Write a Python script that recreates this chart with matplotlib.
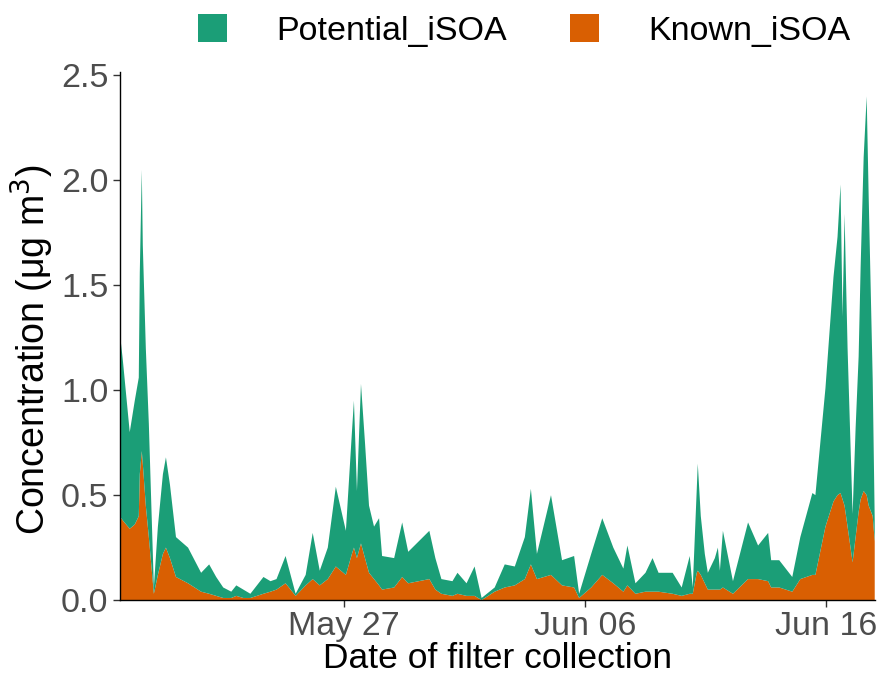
import matplotlib
matplotlib.use("Agg")
import matplotlib.pyplot as plt
import matplotlib.dates as mdates
from matplotlib.patches import Patch
import pandas as pd

# Filter collection times and iSOA concentrations (ug m-3)
times = [
    "2019-05-17 17:00", "2019-05-17 20:00", "2019-05-18 03:00", "2019-05-18 08:00",
    "2019-05-18 12:00", "2019-05-18 13:00", "2019-05-18 15:00", "2019-05-18 16:00",
    "2019-05-18 19:00", "2019-05-18 22:00", "2019-05-19 03:00", "2019-05-19 07:00",
    "2019-05-19 12:00", "2019-05-19 15:00", "2019-05-19 19:00", "2019-05-20 01:00",
    "2019-05-20 13:00", "2019-05-21 02:00", "2019-05-21 10:00", "2019-05-21 17:00",
    "2019-05-22 00:00", "2019-05-22 08:00", "2019-05-22 13:00", "2019-05-22 20:00",
    "2019-05-23 03:00", "2019-05-23 16:00", "2019-05-23 23:00", "2019-05-24 05:00",
    "2019-05-24 14:00", "2019-05-25 00:00", "2019-05-25 10:00", "2019-05-25 17:00",
    "2019-05-26 00:00", "2019-05-26 08:00", "2019-05-26 16:00", "2019-05-27 02:00",
    "2019-05-27 08:00", "2019-05-27 10:00", "2019-05-27 13:00", "2019-05-27 17:00",
    "2019-05-27 21:00", "2019-05-28 01:00", "2019-05-28 06:00", "2019-05-28 11:00",
    "2019-05-28 14:00", "2019-05-29 02:00", "2019-05-29 10:00", "2019-05-29 16:00",
    "2019-05-30 13:00", "2019-05-30 19:00", "2019-05-31 01:00", "2019-05-31 12:00",
    "2019-05-31 17:00", "2019-06-01 02:00", "2019-06-01 10:00", "2019-06-01 17:00",
    "2019-06-02 06:00", "2019-06-02 16:00", "2019-06-03 02:00", "2019-06-03 12:00",
    "2019-06-03 18:00", "2019-06-04 00:00", "2019-06-04 14:00", "2019-06-05 01:00",
    "2019-06-05 13:00", "2019-06-05 18:00", "2019-06-06 06:00", "2019-06-06 17:00",
    "2019-06-07 04:00", "2019-06-07 14:00", "2019-06-07 18:00", "2019-06-08 02:00",
    "2019-06-08 12:00", "2019-06-08 19:00", "2019-06-09 01:00", "2019-06-09 15:00",
    "2019-06-10 00:00", "2019-06-10 08:00", "2019-06-10 11:00", "2019-06-10 15:00",
    "2019-06-10 16:00", "2019-06-10 19:00", "2019-06-10 23:00", "2019-06-11 02:00",
    "2019-06-11 09:00", "2019-06-11 12:00", "2019-06-11 14:00", "2019-06-11 17:00",
    "2019-06-12 03:00", "2019-06-12 18:00", "2019-06-13 04:00", "2019-06-13 14:00",
    "2019-06-13 17:00", "2019-06-14 01:00", "2019-06-14 14:00", "2019-06-14 22:00",
    "2019-06-15 10:00", "2019-06-15 13:00", "2019-06-15 23:00", "2019-06-16 07:00",
    "2019-06-16 11:00", "2019-06-16 14:00", "2019-06-16 16:00", "2019-06-16 18:00",
    "2019-06-16 21:00", "2019-06-17 02:00", "2019-06-17 05:00", "2019-06-17 08:00",
    "2019-06-17 10:00", "2019-06-17 13:00", "2019-06-17 16:00", "2019-06-17 18:00",
    "2019-06-17 22:00", "2019-06-18 00:00",
]

known_isoa = [
    0.40, 0.38, 0.34, 0.36, 0.40, 0.60, 0.71, 0.65, 0.45, 0.30,
    0.03, 0.12, 0.22, 0.25, 0.20, 0.11, 0.08, 0.04, 0.03, 0.02,
    0.01, 0.01, 0.02, 0.01, 0.01, 0.03, 0.04, 0.05, 0.08, 0.02,
    0.07, 0.10, 0.07, 0.10, 0.16, 0.12, 0.22, 0.25, 0.20, 0.27,
    0.20, 0.13, 0.10, 0.07, 0.05, 0.06, 0.11, 0.08, 0.10, 0.05,
    0.03, 0.02, 0.03, 0.02, 0.02, 0.00, 0.04, 0.06, 0.07, 0.10,
    0.17, 0.10, 0.12, 0.07, 0.06, 0.01, 0.06, 0.12, 0.08, 0.04,
    0.07, 0.03, 0.04, 0.04, 0.04, 0.03, 0.02, 0.03, 0.03, 0.13,
    0.14, 0.12, 0.08, 0.05, 0.05, 0.05, 0.05, 0.06, 0.03, 0.10,
    0.10, 0.09, 0.06, 0.06, 0.04, 0.10, 0.12, 0.12, 0.35, 0.47,
    0.50, 0.51, 0.48, 0.45, 0.35, 0.18, 0.30, 0.42, 0.48, 0.52,
    0.50, 0.45, 0.40, 0.28,
]

potential_isoa = [
    0.88, 0.77, 0.46, 0.59, 0.66, 0.96, 1.34, 1.04, 0.75, 0.54,
    0.03, 0.23, 0.38, 0.43, 0.35, 0.19, 0.17, 0.09, 0.14, 0.09,
    0.05, 0.03, 0.05, 0.04, 0.02, 0.08, 0.05, 0.05, 0.13, 0.01,
    0.05, 0.22, 0.07, 0.15, 0.38, 0.21, 0.58, 0.70, 0.32, 0.76,
    0.55, 0.32, 0.25, 0.32, 0.16, 0.14, 0.26, 0.15, 0.23, 0.15,
    0.07, 0.07, 0.10, 0.06, 0.14, 0.01, 0.02, 0.11, 0.09, 0.20,
    0.36, 0.12, 0.38, 0.12, 0.15, 0.02, 0.16, 0.27, 0.17, 0.11,
    0.19, 0.05, 0.09, 0.16, 0.09, 0.10, 0.04, 0.18, 0.03, 0.40,
    0.51, 0.28, 0.14, 0.08, 0.15, 0.20, 0.09, 0.27, 0.06, 0.27,
    0.16, 0.23, 0.13, 0.13, 0.07, 0.20, 0.39, 0.38, 0.66, 1.07,
    1.23, 1.47, 0.87, 1.39, 0.85, 0.23, 0.52, 0.74, 1.11, 1.59,
    1.90, 1.47, 0.65, 0.10,
]

tick_dates = ["2019-05-27", "2019-06-06", "2019-06-16"]
series_names = ["Potential_iSOA", "Known_iSOA"]
colours = {"Potential_iSOA": "#1B9E77", "Known_iSOA": "#D95F02"}

plt.rcParams['font.family'] = ['Liberation Sans', 'DejaVu Sans']

t = pd.to_datetime(times)

fig = plt.figure(figsize=(8.8, 6.75), dpi=100)
ax = fig.add_axes([0.136, 0.111, 0.858, 0.782])

ax.stackplot(t, known_isoa, potential_isoa,
             colors=[colours["Known_iSOA"], colours["Potential_iSOA"]],
             linewidth=0)

ax.set_xlim(t[0], t[-1])
ax.set_ylim(0, 2.515)
ax.set_yticks([0, 0.5, 1.0, 1.5, 2.0, 2.5])
ax.set_yticklabels(["0.0", "0.5", "1.0", "1.5", "2.0", "2.5"])
ax.set_xticks(pd.to_datetime(tick_dates))
ax.xaxis.set_major_formatter(mdates.DateFormatter('%b %d'))

for side in ["top", "right"]:
    ax.spines[side].set_visible(False)
for side in ["left", "bottom"]:
    ax.spines[side].set_color("black")
    ax.spines[side].set_linewidth(1.0)

ax.tick_params(axis='both', labelsize=24.5, colors='#333333', labelcolor='#4D4D4D',
               length=5, width=1, pad=3)

ax.set_xlabel("Date of filter collection", fontsize=25.5, labelpad=0)
ax.set_ylabel("Concentration (\u03bcg m$^{3}$)", fontsize=27)
ax.yaxis.set_label_coords(-0.084, 0.475)

handles = [Patch(facecolor=colours[n], edgecolor='none', label=n) for n in series_names]
fig.legend(handles=handles, loc='center', bbox_to_anchor=(0.596, 0.955), ncol=2,
           frameon=False, fontsize=24.5, handlelength=0.85, handleheight=0.9,
           handletextpad=1.45, columnspacing=1.85)

fig.savefig("out.png", dpi=100)
